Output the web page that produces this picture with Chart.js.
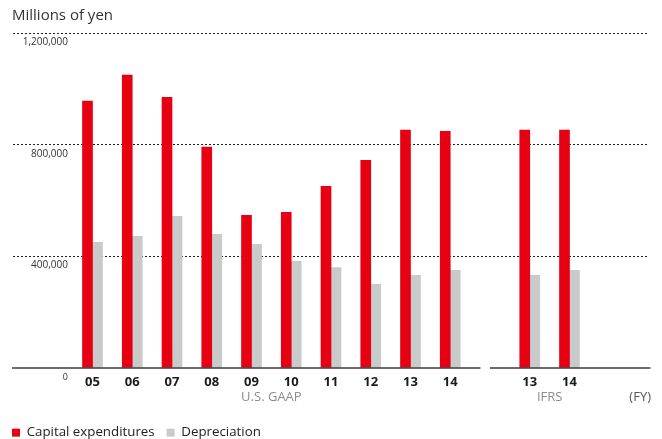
<!DOCTYPE html>
<html>
<head>
<meta charset="utf-8">
<script src="https://cdn.jsdelivr.net/npm/chart.js@4"></script>
<style>
    html, body { margin: 0; padding: 0; background: #fff; }
    #wrap { width: 662px; height: 439px; position: relative; }
</style>
</head>
<body>
<div id="wrap"><canvas id="capexChart"></canvas></div>
<script>

// ==========================================
// Data (millions of yen)
// ==========================================

const usYears = ["05", "06", "07", "08", "09", "10", "11", "12", "13", "14"];
const usCapex = [956000, 1049000, 970000, 791000, 547000, 558000, 651000, 744000, 852000, 848000];
const usDepreciation = [450000, 472000, 543000, 479000, 443000, 382000, 360000, 300000, 332000, 350000];

const ifrsYears = ["13", "14"];
const ifrsCapex = [852000, 852000];
const ifrsDepreciation = [332000, 350000];

const yTicks = [0, 400000, 800000, 1200000];

const RED = "#e60012";
const GREY = "#c9caca";

Chart.defaults.font.family = '"Open Sans", "Noto Sans", sans-serif';


// ==========================================
// Category layout: two blank slots, US GAAP, gap, IFRS, two blank slots
// ==========================================

const pad2 = ["", ""];

const labels = [...pad2, ...usYears, "", ...ifrsYears, ...pad2];

function slots(us, ifrs) {

    return [null, null, ...us, null, ...ifrs, null, null];

}

const usFirst = 2;
const usLast = usFirst + usYears.length - 1;
const ifrsFirst = usLast + 2;
const ifrsLast = ifrsFirst + ifrsYears.length - 1;


// ==========================================
// Extra drawing: title, y labels, baseline, group names
// ==========================================

const annotations = {

    id: "annotations",

    afterDatasetsDraw(chart) {

        const { ctx, chartArea } = chart;
        const x = chart.scales.x;
        const y = chart.scales.y;

        ctx.save();

        // baseline with gap between the two accounting standards
        const base = y.getPixelForValue(0);
        const gapX = x.getPixelForValue(usLast + 1);

        ctx.strokeStyle = "#3c3c3c";
        ctx.lineWidth = 1.5;

        ctx.beginPath();
        ctx.moveTo(chartArea.left - 1, base);
        ctx.lineTo(gapX - 9.5, base);
        ctx.moveTo(gapX, base);
        ctx.lineTo(chartArea.right + 1.5, base);
        ctx.stroke();

        // title
        ctx.fillStyle = "#333";
        ctx.font = '15px "Open Sans"';
        ctx.textAlign = "left";
        ctx.textBaseline = "middle";
        ctx.fillText("Millions of yen", 12, 16);

        // y tick labels, sitting just under their gridline
        ctx.textAlign = "right";

        yTicks.forEach(v => {

            ctx.font = v === 0 ? '9px "Open Sans"' : '10px "Open Sans"';
            ctx.fillText(v.toLocaleString("en-US"), 68, y.getPixelForValue(v) + 9);

        });

        // group names
        ctx.font = '13px "Open Sans"';
        ctx.textAlign = "center";
        ctx.fillStyle = "#8c8c8c";

        const groupY = base + 29;

        ctx.fillText("U.S. GAAP",
            (x.getPixelForValue(usFirst) + x.getPixelForValue(usLast)) / 2, groupY);

        ctx.fillText("IFRS",
            (x.getPixelForValue(ifrsFirst) + x.getPixelForValue(ifrsLast)) / 2, groupY);

        ctx.fillStyle = "#555";
        ctx.textAlign = "right";
        ctx.fillText("(FY)", chartArea.right + 2, groupY);

        ctx.restore();

    }

};


// ==========================================
// Chart
// ==========================================

new Chart(document.getElementById("capexChart"), {

    type: "bar",

    data: {

        labels: labels,

        datasets: [

            {
                label: "Capital expenditures",
                data: slots(usCapex, ifrsCapex),
                backgroundColor: RED,
                barThickness: 10
            },

            {
                label: "Depreciation",
                data: slots(usDepreciation, ifrsDepreciation),
                backgroundColor: GREY,
                barThickness: 10
            }

        ]

    },

    options: {

        responsive: true,
        maintainAspectRatio: false,
        animation: false,

        layout: {
            padding: { top: 33, right: 13, left: 0, bottom: 0 }
        },

        plugins: {

            legend: {
                position: "bottom",
                align: "start",
                maxHeight: 25,
                labels: {
                    boxWidth: 8,
                    boxHeight: 8,
                    padding: 12,
                    color: "#222",
                    font: { size: 13.3 }
                }
            },

            tooltip: { enabled: false }

        },

        scales: {

            x: {
                offset: false,
                grid: { display: false },
                border: { display: false },
                ticks: {
                    autoSkip: false,
                    maxRotation: 0,
                    padding: -2,
                    color: "#1a1a1a",
                    font: { size: 13, weight: "bold" }
                },
                afterFit(scale) {
                    scale.height = 46;
                }
            },

            y: {
                min: 0,
                max: 1200000,
                grid: {
                    drawTicks: false,
                    lineWidth: 1,
                    color: c => (c.tick && c.tick.value === 0 ? "transparent" : "#222")
                },
                border: { display: false, dash: [2, 2] },
                ticks: { display: false },
                afterBuildTicks(scale) {
                    scale.ticks = yTicks.map(v => ({ value: v }));
                },
                afterFit(scale) {
                    scale.width = 13;
                }
            }

        }

    },

    plugins: [annotations]

});

</script>
</body>
</html>
